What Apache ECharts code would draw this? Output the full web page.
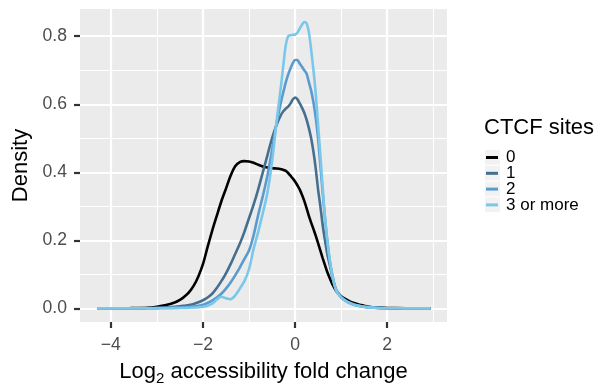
<!DOCTYPE html>
<html>
<head>
<meta charset="utf-8">
<script src="https://cdn.jsdelivr.net/npm/echarts@6/dist/echarts.min.js"></script>
<style>
  html, body { margin: 0; padding: 0; background: #fff; }
  #chart { width: 600px; height: 385px; }
</style>
</head>
<body>
<div id="chart"></div>
<script>
// Density estimates of log2 accessibility fold change, grouped by number of CTCF sites
const xs = [-4.3, -4.0, -3.6, -3.2, -3.0, -2.8, -2.6, -2.5, -2.4, -2.3, -2.2, -2.1, -2.0, -1.9, -1.8,
  -1.7, -1.6, -1.5, -1.4, -1.3, -1.2, -1.1, -1.0, -0.9, -0.8, -0.7, -0.6, -0.5, -0.4, -0.3,
  -0.25, -0.2, -0.15, -0.1, -0.05, 0.0, 0.05, 0.1, 0.15, 0.2, 0.25, 0.3, 0.35, 0.4, 0.45,
  0.5, 0.55, 0.6, 0.65, 0.7, 0.75, 0.8, 0.85, 0.9, 1.0, 1.1, 1.2, 1.3, 1.4, 1.5, 1.6, 1.8,
  2.0, 2.4, 2.94];

const sites0 = [0, 0.0002, 0.0006, 0.002, 0.005, 0.01, 0.018, 0.025, 0.035, 0.048, 0.067, 0.094, 0.13, 0.18, 0.228,
  0.272, 0.315, 0.352, 0.39, 0.418, 0.43, 0.433, 0.432, 0.428, 0.422, 0.417, 0.414, 0.412, 0.411, 0.409,
  0.407, 0.404, 0.398, 0.39, 0.382, 0.373, 0.362, 0.35, 0.334, 0.316, 0.295, 0.272, 0.252, 0.233, 0.213,
  0.192, 0.17, 0.148, 0.127, 0.107, 0.09, 0.074, 0.061, 0.05, 0.036, 0.027, 0.02, 0.015, 0.011, 0.008, 0.005, 0.0025,
  0.0012, 0.0003, 0.0001];

const sites1 = [0, 0.0001, 0.0003, 0.001, 0.0015, 0.003, 0.005, 0.006, 0.008, 0.01, 0.013, 0.018, 0.024, 0.032, 0.043,
  0.06, 0.08, 0.103, 0.13, 0.16, 0.19, 0.225, 0.265, 0.305, 0.35, 0.4, 0.45, 0.5, 0.54, 0.57,
  0.58, 0.587, 0.593, 0.602, 0.614, 0.62, 0.615, 0.603, 0.59, 0.575, 0.555, 0.53, 0.5, 0.46, 0.41,
  0.35, 0.3, 0.245, 0.2, 0.16, 0.13, 0.1, 0.072, 0.052, 0.033, 0.023, 0.016, 0.011, 0.008, 0.005, 0.0035, 0.0015,
  0.0007, 0.0002, 0];

const sites2 = [0, 0.0001, 0.0002, 0.0005, 0.0008, 0.0012, 0.002, 0.0025, 0.003, 0.004, 0.006, 0.008, 0.011, 0.016, 0.023,
  0.032, 0.043, 0.058, 0.076, 0.097, 0.12, 0.145, 0.17, 0.215, 0.275, 0.33, 0.39, 0.465, 0.545, 0.61,
  0.638, 0.665, 0.687, 0.705, 0.72, 0.73, 0.73, 0.72, 0.71, 0.7, 0.69, 0.665, 0.64, 0.605, 0.56,
  0.5, 0.42, 0.34, 0.265, 0.2, 0.145, 0.104, 0.073, 0.052, 0.033, 0.022, 0.015, 0.01, 0.007, 0.005, 0.0032, 0.0014,
  0.0006, 0.0002, 0];

const sites3 = [0, 0, 0.0001, 0.0002, 0.0003, 0.0005, 0.0008, 0.001, 0.0013, 0.0018, 0.0025, 0.0035, 0.005, 0.008, 0.014,
  0.026, 0.034, 0.03, 0.027, 0.038, 0.058, 0.08, 0.115, 0.175, 0.225, 0.28, 0.34, 0.43, 0.55, 0.66,
  0.72, 0.775, 0.8, 0.803, 0.804, 0.805, 0.81, 0.822, 0.834, 0.842, 0.838, 0.812, 0.76, 0.7, 0.63,
  0.54, 0.45, 0.355, 0.27, 0.2, 0.145, 0.104, 0.072, 0.051, 0.032, 0.022, 0.015, 0.01, 0.007, 0.0045, 0.003, 0.0013,
  0.0006, 0.0001, 0];

const groupNames = ['0', '1', '2', '3 or more'];
const groupValues = [sites0, sites1, sites2, sites3];
const groupColors = ['#000000', '#456F8E', '#5A9BCE', '#7BC7E9'];

const xTicks = [-4, -2, 0, 2];
const xMinor = [-3, -1, 1, 3];
const yTicks = [0, 0.2, 0.4, 0.6, 0.8];
const yMinor = [0.1, 0.3, 0.5, 0.7];

const FONT = 'Liberation Sans, Arial, Helvetica, sans-serif';
const KEY_TOP = 149;
const KEY_ROW = 15.8;

const chart = echarts.init(document.getElementById('chart'), null, { renderer: 'canvas' });

const gridLines = []
  .concat(xMinor.map(v => ({ xAxis: v, lineStyle: { width: 1.1 } })))
  .concat(yMinor.map(v => ({ yAxis: v, lineStyle: { width: 1.1 } })))
  .concat(xTicks.map(v => ({ xAxis: v, lineStyle: { width: 2.2 } })))
  .concat(yTicks.map(v => ({ yAxis: v, lineStyle: { width: 2.2 } })));

const curveSeries = groupNames.map((name, k) => ({
  name: name,
  type: 'line',
  data: xs.map((x, i) => [x, groupValues[k][i]]),
  showSymbol: false,
  smooth: 0.3,
  z: 3 + k,
  lineStyle: { color: groupColors[k], width: 2.6 },
  itemStyle: { color: groupColors[k] },
  emphasis: { disabled: true },
  animation: false
}));

// invisible axis line, kept at the panel edge so the outside ticks sit there too
const hiddenLine = { show: true, onZero: false, lineStyle: { color: 'rgba(0,0,0,0)', width: 0 } };

const option = {
  animation: false,
  textStyle: { fontFamily: FONT },
  title: {
    text: 'CTCF sites',
    left: 484,
    top: 117,
    padding: 0,
    textStyle: { fontFamily: FONT, fontSize: 22, fontWeight: 'normal', color: '#000' }
  },
  legend: {
    orient: 'vertical',
    left: 486,
    top: KEY_TOP,
    padding: 0,
    itemWidth: 12,
    itemHeight: 3,
    itemGap: -1.2,
    icon: 'rect',
    data: groupNames,
    selectedMode: false,
    textStyle: { fontFamily: FONT, fontSize: 17, color: '#000', lineHeight: 17, padding: [0, 0, 0, 3] }
  },
  graphic: groupNames.map((n, i) => ({
    type: 'rect',
    left: 484,
    top: KEY_TOP + i * KEY_ROW,
    z: -1,
    shape: { width: 16, height: KEY_ROW },
    style: { fill: '#F2F2F2', stroke: '#FFFFFF', lineWidth: 1 }
  })),
  grid: {
    left: 80,
    top: 9,
    width: 367,
    height: 313,
    outerBoundsMode: 'none',
    containLabel: false,
    show: true,
    backgroundColor: '#EBEBEB',
    borderWidth: 0
  },
  xAxis: {
    type: 'value',
    min: -4.67,
    max: 3.30,
    name: '{n|Log}{s|2}{n| accessibility fold change}',
    nameLocation: 'middle',
    nameGap: 36,
    nameTextStyle: {
      rich: {
        n: { fontFamily: FONT, fontSize: 22, color: '#000', lineHeight: 28, verticalAlign: 'middle' },
        s: { fontFamily: FONT, fontSize: 15, color: '#000', lineHeight: 15, verticalAlign: 'bottom' }
      }
    },
    axisLine: hiddenLine,
    splitLine: { show: false },
    axisTick: { show: true, inside: false, customValues: xTicks, length: 6, lineStyle: { color: '#333333', width: 2.2 } },
    axisLabel: {
      customValues: xTicks,
      margin: 14,
      fontFamily: FONT,
      fontSize: 17.6,
      color: '#4D4D4D',
      formatter: v => (v < 0 ? '\u2212' + Math.abs(v) : String(v))
    }
  },
  yAxis: {
    type: 'value',
    min: -0.04,
    max: 0.88,
    name: 'Density',
    nameLocation: 'middle',
    nameGap: 46,
    nameTextStyle: { fontFamily: FONT, fontSize: 22, color: '#000' },
    axisLine: hiddenLine,
    splitLine: { show: false },
    axisTick: { show: true, inside: false, customValues: yTicks, length: 6, lineStyle: { color: '#333333', width: 2.2 } },
    axisLabel: {
      customValues: yTicks,
      margin: 13,
      fontFamily: FONT,
      fontSize: 17.6,
      color: '#4D4D4D',
      formatter: v => v.toFixed(1)
    }
  },
  series: [{
    name: 'panel-grid',
    type: 'line',
    data: [],
    z: 1,
    silent: true,
    markLine: {
      silent: true,
      symbol: 'none',
      z: 1,
      animation: false,
      label: { show: false },
      lineStyle: { color: '#FFFFFF', type: 'solid' },
      emphasis: { disabled: true },
      data: gridLines
    }
  }].concat(curveSeries)
};

chart.setOption(option);
</script>
</body>
</html>
